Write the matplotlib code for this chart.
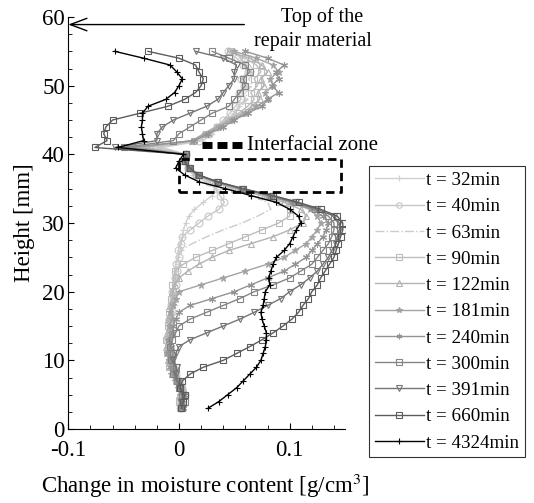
import matplotlib.pyplot as plt
from matplotlib.ticker import MultipleLocator

plt.rcParams['font.family'] = ['Liberation Serif', 'DejaVu Serif']
plt.rcParams['mathtext.fontset'] = 'stix'

# measurement heights [mm]
heights = [3, 4, 5, 6, 7, 8, 9, 10, 11, 12,
           13, 14, 15, 16, 17, 18, 19, 20, 21, 22,
           23, 24, 25, 26, 27, 28, 29, 30, 31, 32,
           33, 34, 35, 36, 37, 38, 39, 40, 41, 42,
           43, 44, 45, 46, 47, 48, 49, 50, 51, 52,
           53, 54, 55]

labels = ['t = 32min', 't = 40min', 't = 63min', 't = 90min', 't = 122min',
          't = 181min', 't = 240min', 't = 300min', 't = 391min', 't = 660min',
          't = 4324min']

# change in moisture content [g/cm3]
t32 = [0.000, 0.003, 0.004, 0.001, -0.002, -0.005, -0.007, -0.009, -0.006, -0.010,
       -0.008, -0.006, -0.007, -0.005, -0.006, -0.004, -0.005, -0.003, -0.004, -0.002,
       -0.003, 0.000, -0.001, 0.002, 0.001, 0.003, 0.004, 0.006, 0.009, 0.014,
       0.022, 0.030, 0.033, 0.024, 0.013, 0.007, 0.004, 0.006, -0.015, 0.022,
       0.030, 0.038, 0.043, 0.050, 0.054, 0.060, 0.057, 0.062, 0.058, 0.064,
       0.060, 0.056, 0.048]
t40 = [0.002, 0.001, 0.005, 0.003, 0.000, -0.003, -0.006, -0.008, -0.010, -0.008,
       -0.011, -0.009, -0.008, -0.009, -0.006, -0.007, -0.005, -0.006, -0.003, -0.004,
       -0.002, -0.003, 0.000, -0.001, 0.002, 0.003, 0.010, 0.018, 0.026, 0.036,
       0.041, 0.037, 0.034, 0.027, 0.015, 0.008, 0.005, 0.006, -0.020, 0.018,
       0.027, 0.034, 0.040, 0.046, 0.051, 0.056, 0.054, 0.059, 0.056, 0.062,
       0.058, 0.052, 0.044]
t63 = [-0.001, 0.003, 0.002, 0.000, -0.004, -0.006, -0.008, -0.011, -0.009, -0.012,
       -0.010, -0.011, -0.009, -0.010, -0.008, -0.007, -0.008, -0.006, -0.005, -0.006,
       -0.004, -0.003, -0.002, 0.001, 0.012, 0.025, 0.040, 0.057, 0.071, 0.083,
       0.080, 0.066, 0.046, 0.030, 0.015, 0.008, 0.005, 0.006, -0.025, 0.016,
       0.025, 0.033, 0.041, 0.050, 0.056, 0.062, 0.060, 0.066, 0.063, 0.068,
       0.064, 0.058, 0.050]
t90 = [0.001, 0.000, 0.004, 0.002, -0.002, -0.005, -0.009, -0.007, -0.011, -0.010,
       -0.012, -0.009, -0.010, -0.008, -0.009, -0.006, -0.007, -0.005, -0.006, -0.003,
       -0.004, 0.004, 0.015, 0.030, 0.045, 0.060, 0.075, 0.090, 0.100, 0.100,
       0.090, 0.074, 0.050, 0.031, 0.015, 0.008, 0.004, 0.006, -0.030, 0.014,
       0.024, 0.034, 0.044, 0.054, 0.062, 0.068, 0.065, 0.071, 0.068, 0.074,
       0.070, 0.060, 0.046]
t122 = [0.003, 0.002, 0.000, 0.004, 0.001, -0.003, -0.006, -0.010, -0.008, -0.012,
        -0.009, -0.011, -0.008, -0.010, -0.007, -0.008, -0.005, -0.006, -0.004, 0.000,
        0.008, 0.018, 0.030, 0.045, 0.065, 0.085, 0.100, 0.112, 0.115, 0.110,
        0.095, 0.077, 0.052, 0.032, 0.016, 0.008, 0.004, 0.006, -0.035, 0.012,
        0.022, 0.033, 0.045, 0.057, 0.066, 0.073, 0.071, 0.077, 0.074, 0.080,
        0.075, 0.064, 0.045]
t181 = [0.002, 0.004, 0.001, -0.001, -0.004, -0.007, -0.005, -0.009, -0.011, -0.008,
        -0.010, -0.007, -0.009, -0.006, -0.008, -0.005, -0.003, 0.000, 0.020, 0.040,
        0.060, 0.080, 0.095, 0.105, 0.115, 0.120, 0.125, 0.128, 0.125, 0.118,
        0.100, 0.080, 0.055, 0.033, 0.017, 0.009, 0.005, 0.006, -0.040, 0.012,
        0.024, 0.036, 0.048, 0.060, 0.070, 0.080, 0.078, 0.085, 0.082, 0.090,
        0.085, 0.070, 0.050]
t240 = [0.004, 0.002, 0.005, 0.001, -0.002, -0.004, -0.008, -0.006, -0.010, -0.007,
        -0.009, -0.006, -0.005, -0.003, 0.000, 0.010, 0.030, 0.050, 0.065, 0.080,
        0.095, 0.105, 0.115, 0.120, 0.125, 0.130, 0.133, 0.135, 0.130, 0.120,
        0.103, 0.082, 0.056, 0.034, 0.017, 0.009, 0.005, 0.006, -0.045, 0.014,
        0.026, 0.040, 0.050, 0.062, 0.075, 0.080, 0.090, 0.084, 0.090, 0.088,
        0.095, 0.080, 0.060]
t300 = [0.003, 0.005, 0.003, 0.000, -0.002, -0.005, -0.003, -0.007, -0.005, -0.008,
        -0.006, -0.003, 0.000, 0.010, 0.025, 0.040, 0.055, 0.068, 0.085, 0.100,
        0.110, 0.120, 0.125, 0.130, 0.135, 0.138, 0.140, 0.140, 0.135, 0.123,
        0.105, 0.083, 0.057, 0.034, 0.017, 0.009, 0.005, 0.006, -0.050, -0.005,
        0.000, 0.010, 0.020, 0.030, 0.045, 0.050, 0.055, 0.060, 0.058, 0.064,
        0.060, 0.045, 0.030]
t391 = [0.004, 0.002, 0.004, 0.001, -0.001, -0.003, -0.002, -0.005, -0.003, 0.000,
        0.010, 0.025, 0.040, 0.055, 0.068, 0.080, 0.092, 0.100, 0.110, 0.118,
        0.125, 0.130, 0.135, 0.138, 0.142, 0.143, 0.145, 0.145, 0.140, 0.125,
        0.106, 0.083, 0.057, 0.034, 0.017, 0.009, 0.005, 0.006, -0.058, -0.020,
        -0.020, -0.015, -0.005, 0.010, 0.025, 0.035, 0.040, 0.045, 0.050, 0.050,
        0.052, 0.040, 0.015]
t660 = [0.002, 0.004, 0.005, 0.001, 0.003, 0.010, 0.022, 0.040, 0.052, 0.064,
        0.075, 0.085, 0.094, 0.102, 0.108, 0.112, 0.117, 0.120, 0.125, 0.128,
        0.132, 0.136, 0.140, 0.142, 0.144, 0.146, 0.148, 0.148, 0.143, 0.128,
        0.108, 0.085, 0.058, 0.035, 0.018, 0.010, 0.005, 0.006, -0.076, -0.065,
        -0.068, -0.066, -0.060, -0.035, -0.010, 0.005, 0.015, 0.020, 0.022, 0.018,
        0.015, 0.000, -0.028]
t4324 = [0.026, 0.036, 0.044, 0.052, 0.058, 0.064, 0.070, 0.074, 0.076, 0.078,
         0.079, 0.079, 0.077, 0.075, 0.074, 0.076, 0.077, 0.078, 0.082, 0.081,
         0.083, 0.085, 0.088, 0.095, 0.100, 0.103, 0.106, 0.110, 0.108, 0.100,
         0.088, 0.065, 0.042, 0.018, 0.005, -0.003, 0.000, 0.004, -0.055, -0.032,
         -0.033, -0.034, -0.033, -0.033, -0.028, -0.012, -0.004, 0.000, 0.003, -0.002,
         -0.008, -0.032, -0.058]

series = [t32, t40, t63, t90, t122, t181, t240, t300, t391, t660, t4324]

asterisk = (6, 2, 0)
styles = [('0.82', '+', '-'), ('0.78', 'o', '-'), ('0.80', '', '-.'),
          ('0.74', 's', '-'), ('0.70', '^', '-'), ('0.64', '*', '-'),
          ('0.58', asterisk, '-'), ('0.52', 's', '-'), ('0.46', 'v', '-'),
          ('0.36', 's', '-'), ('0.0', '+', '-')]

fig = plt.figure(figsize=(5.34, 5.03), dpi=100)
ax = fig.add_axes([0.1279, 0.1471, 0.5182, 0.8191])

for vals, lab, (col, mk, ls) in zip(series, labels, styles):
    open_mk = mk in ('o', 's', '^', 'v')
    ax.plot(vals, heights, color=col, marker=mk if mk else None, linestyle=ls,
            lw=1.0, ms=5, mew=0.8, mfc='none' if open_mk else col, label=lab)

# interfacial zone box
ax.plot([0.0, 0.146, 0.146, 0.0, 0.0], [34.5, 34.5, 39.3, 39.3, 34.5],
        color='k', lw=2, linestyle=(0, (3, 1.8)))
ax.plot([0.0205, 0.0569], [41.3, 41.3], color='k', lw=5,
        linestyle=(0, (1.44, 0.72)), dash_capstyle='butt')
ax.text(0.061, 41.3, 'Interfacial zone', fontsize=15, va='center', ha='left')

# top of the repair material
ax.annotate('', xy=(-0.1, 58.9), xytext=(0.059, 58.9),
            arrowprops=dict(arrowstyle='->,head_length=0.8,head_width=0.3',
                            lw=1, color='k', shrinkA=0, shrinkB=0,
                            mutation_scale=15),
            annotation_clip=False)
fig.text(322.6 / 534, 1 - 22 / 503, 'Top of the', ha='center', va='baseline', fontsize=14.5)
fig.text(313.4 / 534, 1 - 46 / 503, 'repair material', ha='center', va='baseline', fontsize=14.5)

ax.set_xlim(-0.1, 0.15)
ax.set_ylim(0, 60)
ax.set_xticks([-0.1, 0, 0.1])
ax.set_xticklabels(['-0.1', '0', '0.1'])
ax.xaxis.set_minor_locator(MultipleLocator(0.02))
ax.set_yticks([0, 10, 20, 30, 40, 50, 60])
ax.yaxis.set_minor_locator(MultipleLocator(2.5))
ax.tick_params(which='both', direction='in', labelsize=16.5)
ax.tick_params(which='major', length=4)
ax.tick_params(which='minor', length=3)
ax.tick_params(axis='x', pad=8)
ax.tick_params(axis='y', pad=2.5)
ax.spines['top'].set_visible(False)
ax.spines['right'].set_visible(False)

ax.set_xlabel('Change in moisture content [g/cm$^3$]', fontsize=16.5)
ax.set_ylabel('Height [mm]', fontsize=16.5)
ax.xaxis.set_label_coords(0.494, -0.105)
ax.yaxis.set_label_coords(-0.12, 0.5)

leg = ax.legend(loc='upper left', bbox_to_anchor=(369 / 534, 1 - 166 / 503),
                bbox_transform=fig.transFigure, borderaxespad=0, fontsize=13.7,
                handlelength=2.6, handletextpad=0.1, borderpad=0.3,
                labelspacing=0.47, fancybox=False, framealpha=1,
                edgecolor='0.2', numpoints=1, markerscale=0.8)
leg.get_frame().set_linewidth(0.8)

fig.savefig('out.png', dpi=100)
